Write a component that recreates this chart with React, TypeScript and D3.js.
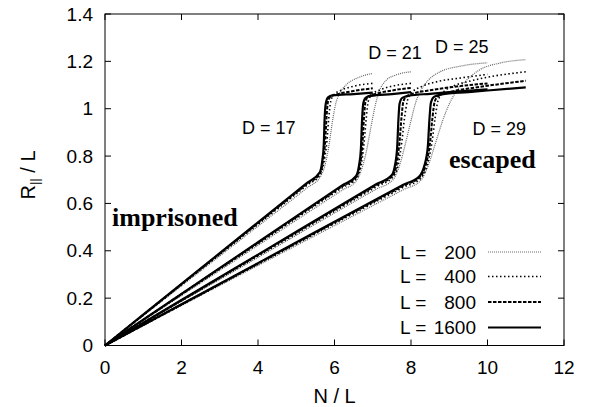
import React from "react";
import * as d3 from "d3";

type P = [number, number];

const xTicks = [0, 2, 4, 6, 8, 10, 12];
const yTicks = [0, 0.2, 0.4, 0.6, 0.8, 1, 1.2, 1.4];
const yTickLabels = ["0", "0.2", "0.4", "0.6", "0.8", "1", "1.2", "1.4"];
const legendLabels = ["200", "400", "800", "1600"];

// D = 17
const D17_L1600: P[] = [[0,0],[2,0.26],[4,0.52],[5.3,0.689],[5.61,0.73],[5.68,0.78],[5.72,0.85],[5.74,0.95],[5.77,1.02],[5.83,1.048],[5.95,1.056],[6.5,1.062],[7,1.068]];
const D17_L800: P[] = [[0,0],[2,0.259],[4,0.517],[5.3,0.685],[5.62,0.727],[5.7,0.78],[5.76,0.87],[5.79,0.96],[5.83,1.03],[5.9,1.052],[6.1,1.062],[6.5,1.075],[7,1.086]];
const D17_L400: P[] = [[0,0],[2,0.256],[4,0.512],[5.3,0.679],[5.62,0.72],[5.72,0.77],[5.8,0.86],[5.85,0.96],[5.9,1.03],[5.98,1.058],[6.2,1.08],[6.5,1.095],[7,1.107]];
const D17_L200: P[] = [[0,0],[2,0.252],[4,0.504],[5.3,0.668],[5.62,0.71],[5.75,0.76],[5.85,0.84],[5.95,0.95],[6.03,1.02],[6.12,1.06],[6.3,1.1],[6.6,1.13],[7,1.149]];

// D = 21
const D21_L1600: P[] = [[0,0],[2,0.218],[4,0.436],[6.2,0.676],[6.56,0.715],[6.64,0.76],[6.69,0.83],[6.72,0.95],[6.75,1.02],[6.81,1.046],[6.95,1.054],[7.5,1.062],[8,1.07]];
const D21_L800: P[] = [[0,0],[2,0.217],[4,0.434],[6.2,0.672],[6.57,0.712],[6.66,0.76],[6.73,0.85],[6.77,0.96],[6.81,1.03],[6.88,1.052],[7.1,1.064],[7.5,1.077],[8,1.088]];
const D21_L400: P[] = [[0,0],[2,0.215],[4,0.429],[6.2,0.666],[6.57,0.705],[6.68,0.75],[6.77,0.85],[6.83,0.96],[6.88,1.03],[6.97,1.058],[7.2,1.08],[7.5,1.095],[8,1.107]];
const D21_L200: P[] = [[0,0],[2,0.211],[4,0.423],[6.2,0.656],[6.57,0.695],[6.7,0.74],[6.82,0.81],[6.95,0.92],[7.06,1.01],[7.15,1.065],[7.35,1.12],[7.6,1.142],[8,1.156]];

// D = 25
const D25_L1600: P[] = [[0,0],[2,0.192],[4,0.384],[7.1,0.682],[7.5,0.72],[7.58,0.76],[7.64,0.84],[7.67,0.95],[7.7,1.02],[7.77,1.046],[7.95,1.055],[8.5,1.063],[9,1.07],[10,1.082]];
const D25_L800: P[] = [[0,0],[2,0.191],[4,0.382],[7.1,0.678],[7.52,0.718],[7.62,0.76],[7.7,0.86],[7.75,0.96],[7.8,1.03],[7.88,1.052],[8.1,1.066],[8.5,1.078],[9,1.09],[10,1.107]];
const D25_L400: P[] = [[0,0],[2,0.189],[4,0.378],[7.1,0.671],[7.53,0.712],[7.66,0.76],[7.76,0.86],[7.83,0.96],[7.9,1.03],[8.0,1.065],[8.3,1.095],[8.7,1.115],[9.3,1.13],[10,1.145]];
const D25_L200: P[] = [[0,0],[2,0.186],[4,0.372],[7.1,0.661],[7.53,0.7],[7.7,0.76],[7.85,0.85],[8.0,0.95],[8.13,1.03],[8.25,1.075],[8.45,1.12],[8.75,1.155],[9.3,1.18],[10,1.194]];

// D = 29
const D29_L1600: P[] = [[0,0],[2,0.174],[4,0.348],[7.8,0.679],[8.22,0.715],[8.35,0.76],[8.44,0.84],[8.48,0.95],[8.52,1.025],[8.6,1.05],[8.8,1.06],[9.5,1.07],[10,1.077],[11,1.09]];
const D29_L800: P[] = [[0,0],[2,0.173],[4,0.346],[7.8,0.675],[8.24,0.713],[8.38,0.76],[8.5,0.86],[8.56,0.96],[8.62,1.03],[8.72,1.054],[9.0,1.07],[9.5,1.085],[10,1.097],[11,1.118]];
const D29_L400: P[] = [[0,0],[2,0.171],[4,0.343],[7.8,0.668],[8.25,0.706],[8.42,0.76],[8.55,0.86],[8.63,0.96],[8.7,1.03],[8.82,1.065],[9.1,1.095],[9.5,1.115],[10,1.133],[11,1.156]];
const D29_L200: P[] = [[0,0],[2,0.169],[4,0.338],[7.8,0.658],[8.25,0.696],[8.45,0.76],[8.65,0.86],[8.85,0.96],[9.0,1.02],[9.15,1.065],[9.45,1.12],[9.8,1.165],[10.3,1.192],[11,1.207]];

const series200 = [D17_L200, D21_L200, D25_L200, D29_L200];
const series400 = [D17_L400, D21_L400, D25_L400, D29_L400];
const series800 = [D17_L800, D21_L800, D25_L800, D29_L800];
const series1600 = [D17_L1600, D21_L1600, D25_L1600, D29_L1600];

const dLabels = [
  { text: "D = 17", x: 3.58, y: 0.893 },
  { text: "D = 21", x: 6.88, y: 1.21 },
  { text: "D = 25", x: 8.63, y: 1.235 },
  { text: "D = 29", x: 9.61, y: 0.889 },
];

const styles = [
  { stroke: "#666", width: 1.2, dash: "1,1" },
  { stroke: "#000", width: 1.6, dash: "1.5,2.5" },
  { stroke: "#000", width: 2, dash: "3.5,1.5" },
  { stroke: "#000", width: 2.2, dash: "none" },
];

const SANS = "'Liberation Sans', Arial, Helvetica, sans-serif";
const SERIF = "'Liberation Serif', 'Times New Roman', serif";

export default function App() {
  const W = 590, H = 407;
  const left = 105, right = 564, top = 14, bottom = 345.5;
  const x = d3.scaleLinear().domain([0, 12]).range([left, right]);
  const y = d3.scaleLinear().domain([0, 1.4]).range([bottom, top]);
  const line = d3
    .line<P>()
    .x((d) => x(d[0]))
    .y((d) => y(d[1]))
    .curve(d3.curveMonotoneX);

  const groups = [series200, series400, series800, series1600];
  const legendY = [252, 276.5, 302, 327.5];

  return (
    <svg
      width={W}
      height={H}
      style={{ position: "absolute", left: 0, top: 0, background: "#fff" }}
      fontFamily={SANS}
    >
      <rect x={0} y={0} width={W} height={H} fill="#fff" />
      {groups.map((g, gi) =>
        g.map((s, si) => (
          <path
            key={`c${gi}-${si}`}
            d={line(s) || ""}
            fill="none"
            stroke={styles[gi].stroke}
            strokeWidth={styles[gi].width}
            strokeDasharray={styles[gi].dash}
            strokeLinejoin="round"
          />
        ))
      )}
      <rect x={left} y={top} width={right - left} height={bottom - top} fill="none" stroke="#000" strokeWidth={1} />
      {xTicks.map((t) => (
        <g key={`xt${t}`}>
          <line x1={x(t)} x2={x(t)} y1={bottom} y2={bottom - 6} stroke="#000" />
          <line x1={x(t)} x2={x(t)} y1={top} y2={top + 6} stroke="#000" />
          <text x={x(t)} y={373.5} fontSize={19} textAnchor="middle">{t}</text>
        </g>
      ))}
      {yTicks.map((t, i) => (
        <g key={`yt${t}`}>
          <line x1={left} x2={left + 6} y1={y(t)} y2={y(t)} stroke="#000" />
          <line x1={right} x2={right - 6} y1={y(t)} y2={y(t)} stroke="#000" />
          <text x={93} y={y(t) + 6.5} fontSize={19} textAnchor="end">{yTickLabels[i]}</text>
        </g>
      ))}
      <text x={(left + right) / 2} y={402.5} fontSize={20} textAnchor="middle">N / L</text>
      <text transform="translate(35,175) rotate(-90)" fontSize={20} textAnchor="middle">
        R<tspan fontSize={13} dy={4}>||</tspan><tspan dy={-4}> / L</tspan>
      </text>
      {dLabels.map((l) => (
        <text key={l.text} x={x(l.x)} y={y(l.y)} fontSize={18}>{l.text}</text>
      ))}
      <text x={112} y={226} fontSize={26} fontWeight="bold" fontFamily={SERIF}>imprisoned</text>
      <text x={449} y={168} fontSize={26} fontWeight="bold" fontFamily={SERIF}>escaped</text>
      {legendLabels.map((lab, i) => (
        <g key={`lg${lab}`}>
          <text x={400} y={legendY[i] + 6.5} fontSize={19}>L =</text>
          <text x={476} y={legendY[i] + 6.5} fontSize={19} textAnchor="end">{lab}</text>
          <line
            x1={488}
            x2={541}
            y1={legendY[i]}
            y2={legendY[i]}
            stroke={styles[i].stroke}
            strokeWidth={styles[i].width}
            strokeDasharray={styles[i].dash}
          />
        </g>
      ))}
    </svg>
  );
}
